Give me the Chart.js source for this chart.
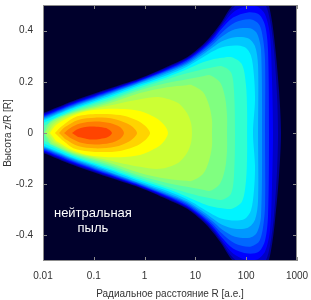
<!DOCTYPE html>
<html>
<head>
<meta charset="utf-8">
<script src="https://cdn.jsdelivr.net/npm/chart.js@4.4.1/dist/chart.umd.min.js"></script>
<style>
  html, body { margin: 0; padding: 0; background: #fff; }
  #wrap { width: 311px; height: 300px; position: relative; }
</style>
</head>
<body>
<div id="wrap"><canvas id="chart"></canvas></div>
<script>
// Уровни плотности, от внешнего к внутреннему.
// Каждый массив - верхняя половина (z >= 0) замкнутого контура: [R (а.е.), z/R]
const c00 = [[0.00555,0.062],[0.01,0.078],[0.039,0.125],[0.182,0.171],[0.812,0.214],[2.76,0.259],[6.83,0.296],[14.1,0.346],[22.2,0.389],[33.4,0.436],[48,0.486],[75.5,0.525],[149,0.549],[245,0.525],[308,0.459],[369,0.342],[442,0.167],[484,0]];
const c01 = [[0.00555,0.058],[0.01,0.074],[0.039,0.121],[0.182,0.167],[0.812,0.211],[2.76,0.255],[6.83,0.292],[14.1,0.34],[22.2,0.381],[33.4,0.428],[48,0.475],[75.5,0.51],[149,0.525],[235,0.502],[294,0.44],[352,0.323],[404,0.148],[423,0]];
const c02 = [[0.00555,0.054],[0.01,0.07],[0.039,0.117],[0.182,0.163],[0.812,0.208],[2.76,0.251],[6.83,0.288],[14.1,0.335],[22.2,0.374],[33.4,0.42],[55,0.471],[94.7,0.494],[163,0.494],[235,0.463],[294,0.381],[322,0.206],[337,0]];
const c03 = [[0.00555,0.051],[0.01,0.066],[0.039,0.113],[0.182,0.16],[0.812,0.205],[2.76,0.247],[6.83,0.284],[14.1,0.329],[22.2,0.366],[33.4,0.409],[55,0.451],[108.5,0.471],[179,0.463],[235,0.42],[269,0.323],[281,0]];
const c04 = [[0.00555,0.047],[0.01,0.062],[0.039,0.109],[0.182,0.156],[0.812,0.202],[2.76,0.243],[6.83,0.278],[14.1,0.323],[22.2,0.356],[33.4,0.393],[60.2,0.432],[119,0.444],[179,0.424],[214,0.37],[235,0.284],[235,0]];
const c05 = [[0.00555,0.043],[0.01,0.058],[0.039,0.105],[0.182,0.152],[0.812,0.198],[2.76,0.239],[6.83,0.272],[14.1,0.315],[22.2,0.346],[33.4,0.377],[60.2,0.405],[119,0.409],[163,0.389],[196,0.323],[205,0]];
const c06 = [[0.00555,0.039],[0.01,0.054],[0.039,0.101],[0.182,0.148],[0.812,0.195],[2.76,0.233],[6.83,0.267],[14.1,0.307],[22.2,0.335],[33.4,0.358],[60.2,0.374],[108.5,0.37],[149,0.339],[171,0.265],[171,0]];
const c07 = [[0.00555,0.033],[0.01,0.049],[0.039,0.097],[0.182,0.142],[0.812,0.189],[2.76,0.226],[6.83,0.259],[14.1,0.296],[22.2,0.319],[33.4,0.335],[60.2,0.342],[94.7,0.335],[124,0.303],[142,0.226],[149,0.128],[136,0]];
const c08 = [[0.00555,0.023],[0.01,0.039],[0.039,0.091],[0.182,0.136],[0.812,0.183],[2.76,0.218],[6.83,0.249],[14.1,0.276],[22.2,0.288],[33.4,0.294],[52.5,0.296],[82.7,0.268],[99.1,0.187],[104,0.089],[104,0]];
const c09 = [[0.00555,0.008],[0.01,0.027],[0.039,0.086],[0.182,0.128],[0.812,0.175],[2.76,0.21],[6.83,0.233],[14.1,0.249],[22.2,0.257],[33.4,0.261],[50.2,0.237],[57.5,0.167],[60.2,0]];
const c10 = [[0.01046,0],[0.01373,0.043],[0.039,0.082],[0.182,0.121],[0.812,0.167],[2.76,0.195],[6.83,0.21],[14.1,0.222],[19.4,0.226],[30.5,0.198],[38.3,0.14],[41.9,0.07],[41.9,0]];
const c11 = [[0.01095,0],[0.01504,0.039],[0.039,0.078],[0.182,0.113],[0.812,0.156],[2.76,0.179],[6.83,0.187],[8.57,0.187],[14.1,0.16],[18.5,0.109],[21.2,0.051],[21.2,0]];
const c12 = [[0.01254,0],[0.0165,0.035],[0.039,0.074],[0.182,0.105],[0.812,0.132],[2.01,0.14],[4.55,0.117],[6.83,0.078],[8.19,0.039],[8.57,0]];
const c13 = [[0.01373,0],[0.018,0.031],[0.039,0.068],[0.0842,0.088],[0.262,0.095],[0.812,0.086],[1.84,0.054],[2.52,0.027],[2.89,0]];
const c14 = [[0.0172,0],[0.0237,0.027],[0.0427,0.062],[0.106,0.074],[0.328,0.07],[0.812,0.043],[1.28,0]];
const c15 = [[0.0207,0],[0.0271,0.023],[0.0489,0.051],[0.106,0.06],[0.262,0.054],[0.516,0.031],[0.709,0]];
const c16 = [[0.0259,0],[0.034,0.019],[0.0535,0.037],[0.106,0.045],[0.208,0.039],[0.328,0.023],[0.393,0]];
const c17 = [[0.0372,0],[0.0489,0.016],[0.0842,0.025],[0.1325,0.023],[0.19,0.016],[0.228,0]];

const levels = [c00, c01, c02, c03, c04, c05, c06, c07, c08, c09, c10, c11, c12, c13, c14, c15, c16, c17];

const xTickValues = [0.01, 0.1, 1, 10, 100, 1000];
const xTickLabels = ['0.01', '0.1', '1', '10', '100', '1000'];
const yTickValues = [-0.4, -0.2, 0, 0.2, 0.4];
const yTickLabels = ['-0.4', '-0.2', '0', '0.2', '0.4'];
const dustText = ['нейтральная', 'пыль'];

// палитра jet
const levelColors = ['#000090', '#0000c8', '#0000ff', '#0038ff', '#0068ff', '#0098ff', '#00c8ff', '#00f4ff',
    '#30ffd0', '#58ffa8', '#80ff80', '#a8ff58', '#ccff34', '#ffff00', '#ffd400', '#ffa800', '#ff7c00', '#ff4400'];
const bgColor = '#00002c';

// верхняя половина + зеркальная нижняя = замкнутый контур
function closeLevel(upper) {
    const top = upper.map(([r, z]) => ({ x: r, y: z }));
    const from = upper[0][1] === 0 ? 1 : 0;
    const bottom = upper.slice(from, -1).reverse().map(([r, z]) => ({ x: r, y: -z }));
    return top.concat(bottom);
}

const datasets = levels.map((lvl, i) => ({
    data: closeLevel(lvl),
    showLine: true,
    fill: 'shape',
    backgroundColor: levelColors[i],
    borderColor: 'rgba(0,0,0,0)',
    borderWidth: 0,
    pointRadius: 0,
    tension: 0.3,
    order: levels.length - i
}));

const framePlugin = {
    id: 'frame',
    beforeDraw(chart) {
        const a = chart.chartArea;
        const ctx = chart.ctx;
        ctx.save();
        ctx.fillStyle = bgColor;
        ctx.fillRect(a.left, a.top, a.right - a.left, a.bottom - a.top);
        ctx.restore();
    },
    afterDatasetsDraw(chart) {
        const a = chart.chartArea;
        const ctx = chart.ctx;
        const xs = chart.scales.x, ys = chart.scales.y;
        ctx.save();
        // подпись области
        ctx.fillStyle = '#ffffff';
        ctx.font = '13px "Liberation Sans", Arial, sans-serif';
        ctx.textAlign = 'center';
        ctx.textBaseline = 'middle';
        const tx = xs.getPixelForValue(0.096);
        const ty = ys.getPixelForValue(-0.315);
        dustText.forEach((t, i) => ctx.fillText(t, tx, ty + i * 15));
        // рамка и внутренние штрихи
        ctx.strokeStyle = '#8c8c8c';
        ctx.lineWidth = 1;
        ctx.strokeRect(a.left + 0.5, a.top + 0.5, a.right - a.left - 1, a.bottom - a.top - 1);
        ctx.beginPath();
        xTickValues.forEach(v => {
            const px = Math.round(xs.getPixelForValue(v)) + 0.5;
            ctx.moveTo(px, a.bottom); ctx.lineTo(px, a.bottom - 4);
            ctx.moveTo(px, a.top); ctx.lineTo(px, a.top + 4);
        });
        yTickValues.forEach(v => {
            const py = Math.round(ys.getPixelForValue(v)) + 0.5;
            ctx.moveTo(a.left, py); ctx.lineTo(a.left + 4, py);
            ctx.moveTo(a.right, py); ctx.lineTo(a.right - 4, py);
        });
        ctx.stroke();
        ctx.restore();
    }
};

Chart.defaults.font.family = '"Liberation Sans", Arial, sans-serif';
Chart.defaults.font.size = 10;
Chart.defaults.color = '#333333';

new Chart(document.getElementById('chart'), {
    type: 'scatter',
    data: { datasets: datasets },
    options: {
        responsive: true,
        maintainAspectRatio: false,
        animation: false,
        events: [],
        layout: { padding: { top: 5, right: 14, left: 0, bottom: 0 } },
        plugins: {
            legend: { display: false },
            tooltip: { enabled: false }
        },
        scales: {
            x: {
                type: 'logarithmic',
                min: 0.01,
                max: 1000,
                afterBuildTicks: s => { s.ticks = xTickValues.map(v => ({ value: v })); },
                afterFit: s => {
                    s.height = 39;
                    s.paddingLeft = 0; s.paddingRight = 0;
                    s.paddingTop = 0; s.paddingBottom = 0;
                },
                ticks: {
                    autoSkip: false,
                    maxRotation: 0,
                    padding: 9,
                    callback: (v, i) => xTickLabels[i]
                },
                grid: { display: false, drawTicks: false },
                border: { display: false },
                title: {
                    display: true,
                    text: 'Радиальное расстояние R [а.е.]',
                    padding: { top: 0, bottom: 0 }
                }
            },
            y: {
                min: -0.5,
                max: 0.5,
                afterBuildTicks: s => { s.ticks = yTickValues.map(v => ({ value: v })); },
                afterFit: s => {
                    s.width = 43;
                    s.paddingLeft = 0; s.paddingRight = 0;
                    s.paddingTop = 0; s.paddingBottom = 0;
                },
                ticks: {
                    padding: 10,
                    callback: (v, i) => yTickLabels[i]
                },
                grid: { display: false, drawTicks: false },
                border: { display: false },
                title: {
                    display: true,
                    text: 'Высота z/R [R]',
                    padding: { top: 2, bottom: 0 }
                }
            }
        }
    },
    plugins: [framePlugin]
});
</script>
</body>
</html>
